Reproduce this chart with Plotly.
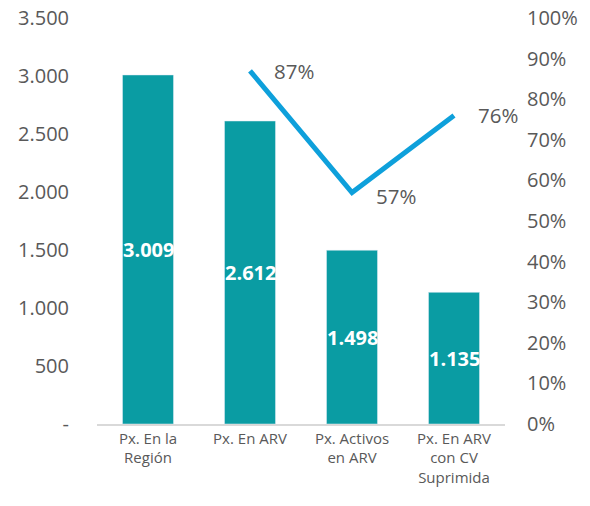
import plotly.graph_objects as go

categories = ["Px. En la<br>Región", "Px. En ARV", "Px. Activos<br>en ARV", "Px. En ARV<br>con CV<br>Suprimida"]
pacientes = [3009, 2612, 1498, 1135]
pct_categories = categories[1:]
porcentajes = [0.87, 0.57, 0.76]

left_ticks = [0, 500, 1000, 1500, 2000, 2500, 3000, 3500]
right_ticks = [i / 10 for i in range(11)]

BAR = "#0A9CA3"
LINE = "#0EA0DB"
TXT = "#595959"


def miles(v):
    return f"{v:,}".replace(",", ".") if v else "-"


fig = go.Figure()
fig.add_trace(go.Bar(x=categories, y=pacientes, marker_color=BAR, width=0.5,
                     hoverinfo="skip"))
fig.add_trace(go.Scatter(x=pct_categories, y=porcentajes, mode="lines", yaxis="y2",
                         line=dict(color=LINE, width=5), hoverinfo="skip"))

# valores de las barras, centrados en cada barra
for c, v in zip(categories, pacientes):
    fig.add_annotation(x=c, y=v / 2, text=f"<b>{miles(v)}</b>", showarrow=False,
                       font=dict(color="white", size=20, family="Open Sans"))

# porcentajes a la derecha de cada punto
offsets = [0, -3, 0]
for c, p, dy in zip(pct_categories, porcentajes, offsets):
    fig.add_annotation(x=c, y=p, yref="y2", text=f"{round(p * 100)}%", showarrow=False,
                       xanchor="left", xshift=22, yshift=dy,
                       font=dict(color=TXT, size=20.5, family="Open Sans"))

# la página añade 8px de margen alrededor de la figura
fig.update_layout(
    width=574, height=490,
    margin=dict(l=89, r=77, t=10, b=74),
    plot_bgcolor="white", paper_bgcolor="white",
    showlegend=False,
    font=dict(family="Open Sans", color=TXT),
    xaxis=dict(range=[-0.5, 3.5], showline=True, linecolor="#D9D9D9", linewidth=1.5,
               ticks="", tickfont=dict(size=15, color=TXT), automargin=False),
    yaxis=dict(range=[0, 3500], tickvals=left_ticks,
               ticktext=[miles(v) for v in left_ticks], automargin=False,
               ticklabeloverflow="allow",
               showgrid=False, zeroline=False, ticks="", ticklabelstandoff=27,
               tickfont=dict(size=20, color=TXT)),
    yaxis2=dict(range=[0, 1], overlaying="y", side="right", tickvals=right_ticks,
                ticktext=[f"{round(t * 100)}%" for t in right_ticks], automargin=False,
                ticklabeloverflow="allow",
                showgrid=False, zeroline=False, ticks="", ticklabelstandoff=21,
                tickfont=dict(size=20, color=TXT)),
)

fig.write_html("out.html")
